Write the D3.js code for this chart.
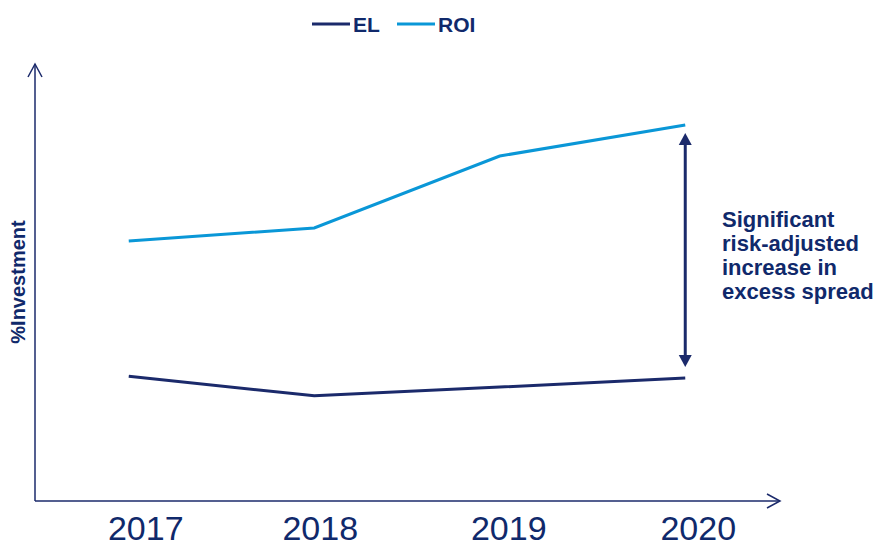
<!DOCTYPE html>
<html>
<head>
<meta charset="utf-8">
<script src="https://cdn.jsdelivr.net/npm/d3@7"></script>
<style>
  body { margin: 0; background: #fff; }
  svg { display: block; font-family: "Liberation Sans", Arial, sans-serif; }
</style>
</head>
<body>
<div id="chart"></div>
<script>
// data (arbitrary % of investment units)
const years = ["2017", "2018", "2019", "2020"];
const roi = [59.4, 62.4, 78.9, 86.0];
const el = [28.4, 23.9, 25.9, 28.0];
const seriesNames = ["EL", "ROI"];
const noteLines = ["Significant", "risk-adjusted", "increase in", "excess spread"];

const navy = "#1b2a6b";
const textNavy = "#10296b";
const blue = "#0a97d7";

// year labels sit a little right of their data points
const labelShift = [17, 6, 9, 13];

let width = 875, height = 543;
let svg = d3.select("#chart").append("svg")
  .attr("width", width)
  .attr("height", height);

let x = d3.scalePoint().domain(years).range([36, 778]).padding(0.5);
let y = d3.scaleLinear().domain([0, 100]).range([500, 64]);

// axes with open arrow heads
let axes = svg.append("g")
  .attr("stroke", navy)
  .attr("stroke-width", 1.5)
  .attr("fill", "none");
axes.append("line").attr("x1", 35).attr("y1", 501).attr("x2", 35).attr("y2", 64);
axes.append("polyline").attr("points", "28,77 35,64 42,77");
axes.append("line").attr("x1", 35).attr("y1", 501).attr("x2", 779).attr("y2", 501);
axes.append("polyline").attr("points", "767,494 780,501 767,508");

// year labels
svg.append("g").selectAll("text")
  .data(years)
  .enter()
  .append("text")
    .attr("x", (d, i) => x(d) + labelShift[i])
    .attr("y", 540)
    .attr("text-anchor", "middle")
    .attr("font-size", 34)
    .attr("fill", textNavy)
    .text(d => d);

// y title
svg.append("text")
  .attr("transform", "translate(25,282) rotate(-90)")
  .attr("text-anchor", "middle")
  .attr("font-size", 20)
  .attr("font-weight", "bold")
  .attr("fill", textNavy)
  .text("%Investment");

// lines
let line = d3.line()
  .x((d, i) => x(years[i]))
  .y(d => y(d));

svg.append("path")
  .datum(roi)
  .attr("d", line)
  .attr("fill", "none")
  .attr("stroke", blue)
  .attr("stroke-width", 3);

svg.append("path")
  .datum(el)
  .attr("d", line)
  .attr("fill", "none")
  .attr("stroke", navy)
  .attr("stroke-width", 3);

// double-headed annotation arrow at the last year
let ax = x(years[3]);
let arrTop = y(roi[3]) + 8;
let arrBot = y(el[3]) - 11;
svg.append("line")
  .attr("x1", ax).attr("x2", ax)
  .attr("y1", arrTop + 10).attr("y2", arrBot - 10)
  .attr("stroke", navy)
  .attr("stroke-width", 3);
svg.append("path")
  .attr("d", `M${ax},${arrTop} L${ax - 6.5},${arrTop + 12} L${ax + 6.5},${arrTop + 12} Z`)
  .attr("fill", navy);
svg.append("path")
  .attr("d", `M${ax},${arrBot} L${ax - 6.5},${arrBot - 12} L${ax + 6.5},${arrBot - 12} Z`)
  .attr("fill", navy);

svg.append("g").selectAll("text")
  .data(noteLines)
  .enter()
  .append("text")
    .attr("x", 722)
    .attr("y", (d, i) => 227 + i * 24)
    .attr("font-size", 22)
    .attr("font-weight", "bold")
    .attr("fill", textNavy)
    .text(d => d);

// legend
let legend = svg.append("g");
let legendX = [312, 397];
seriesNames.forEach((name, i) => {
  legend.append("line")
    .attr("x1", legendX[i]).attr("x2", legendX[i] + 38)
    .attr("y1", 24).attr("y2", 24)
    .attr("stroke", i == 0 ? navy : blue)
    .attr("stroke-width", 3);
  legend.append("text")
    .attr("x", legendX[i] + 41)
    .attr("y", 31.5)
    .attr("font-size", 21)
    .attr("font-weight", "bold")
    .attr("fill", textNavy)
    .text(name);
});
</script>
</body>
</html>
